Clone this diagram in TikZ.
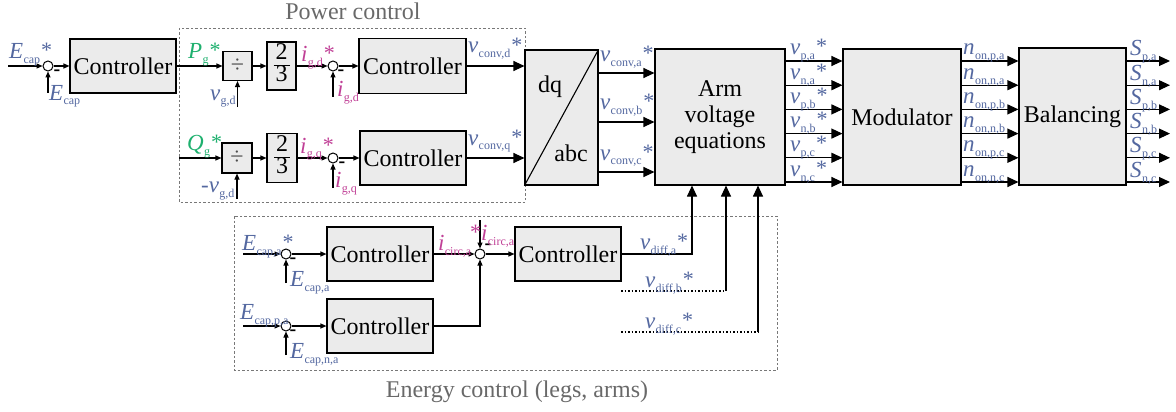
\documentclass[tikz,border=0pt]{standalone}
\usepackage{fontspec}
\setmainfont{Liberation Serif}
\usetikzlibrary{arrows.meta}
\definecolor{sblue}{RGB}{84,104,160}
\definecolor{sgreen}{RGB}{30,176,110}
\definecolor{spink}{RGB}{192,64,150}
\definecolor{boxfill}{RGB}{235,235,235}
\definecolor{frame}{RGB}{120,120,120}
\definecolor{ttl}{RGB}{105,105,105}
\newcommand\sgl[2]{\textit{#1}\kern0.3pt\raisebox{-5pt}{\fontsize{12}{12}\selectfont #2}}
\newcommand\str{\kern1pt\raisebox{1pt}{\fontsize{22}{22}\selectfont *}}
\newcommand\twothirds{{\setlength\arrayrulewidth{1pt}\renewcommand\arraystretch{0.8}\begin{tabular}{@{\kern2pt}c@{\kern2pt}}2\\[-1pt]\hline 3\end{tabular}}}
\begin{document}
\begin{tikzpicture}[x=1pt,y=-1pt,
  blk/.style={draw, line width=1.1pt, fill=boxfill, inner sep=0pt, font=\fontsize{24}{26}\selectfont, align=center},
  sumn/.style={draw, circle, fill=white, line width=1pt, minimum size=10pt, inner sep=0pt},
  con/.style={line width=1.1pt},
  sa/.style={con, -{Triangle[length=6pt,width=5pt]}},
  ba/.style={con, -{Triangle[length=11pt,width=10pt]}},
  lb/.style={anchor=base west, inner sep=0pt, font=\fontsize{23}{23}\selectfont},
  bl/.style={lb, text=sblue}, gl/.style={lb, text=sgreen}, pl/.style={lb, text=spink},
  mn/.style={inner sep=0pt, font=\fontsize{20}{20}\selectfont\bfseries},
  grp/.style={draw=frame, line width=0.8pt, dash pattern=on 2.5pt off 2pt},
  ttlf/.style={text=ttl, font=\fontsize{24}{24}\selectfont, anchor=base, inner sep=0pt},
  dt/.style={con, dash pattern=on 1.5pt off 2pt},
  plain/.style={inner sep=0pt, font=\fontsize{24}{26}\selectfont}
]
\useasboundingbox (0,0) rectangle (1176,412);
% groups
\draw[grp] (179,28) rectangle (525,202);
\draw[grp] (234,216) rectangle (777,370);
\node[ttlf] (tPow) at (353,20) {Power control};
\node[ttlf] (tEn) at (517,397) {Energy control (legs, arms)};

% row 1
\node[sumn] (sumA) at (48,66) {};
\node[blk, minimum width=106pt, minimum height=54pt] (ctrlA) at (123,66) {Controller};
\node[blk, minimum width=29pt, minimum height=29pt] (divA) at (237.5,66) {\textcolor{black!70}{÷}};
\node[blk, minimum width=29pt, minimum height=48pt] (fracA) at (281.5,66) {\twothirds};
\node[sumn] (sumB) at (333,66) {};
\node[blk, minimum width=107pt, minimum height=55pt] (ctrlB) at (412.5,66) {Controller};
% row 2
\node[blk, minimum width=30pt, minimum height=30pt] (divB) at (237,158) {\textcolor{black!70}{÷}};
\node[blk, minimum width=30pt, minimum height=49pt] (fracB) at (282,158) {\twothirds};
\node[sumn] (sumC) at (333,158) {};
\node[blk, minimum width=106pt, minimum height=54pt] (ctrlC) at (413,158) {Controller};
% big blocks
\node[blk, minimum width=73pt, minimum height=135pt] (dq) at (561.5,117.5) {};
\draw[line width=1.1pt] (dq.south west) -- (dq.north east);
\node[plain] (dqt) at (550,87) {dq};
\node[plain] (abct) at (571,153) {abc};
\node[blk, minimum width=130pt, minimum height=136pt] (arm) at (720,117) {Arm\\voltage\\equations};
\node[blk, minimum width=118pt, minimum height=136pt] (mod) at (902,117) {Modulator};
\node[blk, minimum width=107pt, minimum height=137pt] (bal) at (1072.5,116.5) {Balancing};
% energy
\node[sumn] (sumD) at (286,254) {};
\node[blk, minimum width=106pt, minimum height=54pt] (ctrlD) at (380,254) {Controller};
\node[sumn] (sumE) at (480,254) {};
\node[blk, minimum width=106pt, minimum height=54pt] (ctrlE) at (568,254) {Controller};
\node[sumn] (sumF) at (286,326) {};
\node[blk, minimum width=106pt, minimum height=54pt] (ctrlF) at (380,326) {Controller};

% connectors row 1
\coordinate (inA) at (8,66);
\draw[sa] (inA) -- (sumA);
\draw[sa] (sumA) -- (ctrlA);
\draw[sa] (ctrlA) -- (divA);
\draw[sa] (divA) -- (fracA);
\draw[sa] (fracA) -- (sumB);
\draw[sa] (sumB) -- (ctrlB);
\draw[ba] (ctrlB) -- (ctrlB -| dq.west);
\coordinate (fbA) at (48,93);
\draw[sa] (fbA) -- (sumA);
\coordinate (fbB) at (237.5,107);
\draw[sa] (fbB) -- (divA);
\coordinate (fbC) at (333,97);
\draw[sa] (fbC) -- (sumB);
% row 2
\coordinate (inB) at (179,158);
\draw[sa] (inB) -- (divB);
\draw[sa] (divB) -- (fracB);
\draw[sa] (fracB) -- (sumC);
\draw[sa] (sumC) -- (ctrlC);
\draw[ba] (ctrlC) -- (ctrlC -| dq.west);
\coordinate (fbD) at (237,199);
\draw[sa] (fbD) -- (divB);
\coordinate (fbE) at (333,188);
\draw[sa] (fbE) -- (sumC);
% dq to arm
\foreach \yy [count=\k] in {73,122,172}{
  \coordinate (dqy\k) at (0,\yy);
  \draw[ba] (dq.east |- dqy\k) -- (arm.west |- dqy\k);
}
% arm -> mod -> bal -> out
\foreach \yy [count=\k] in {61,85.2,109.4,133.6,157.8,182}{
  \coordinate (ay\k) at (0,\yy);
  \coordinate (out\k) at (1170,\yy);
  \draw[ba] (arm.east |- ay\k) -- (mod.west |- ay\k);
  \draw[ba] (mod.east |- ay\k) -- (bal.west |- ay\k);
  \draw[ba] (bal.east |- ay\k) -- (out\k);
}
% energy connectors
\coordinate (inD) at (243,254);
\draw[sa] (inD) -- (sumD);
\draw[sa] (sumD) -- (ctrlD);
\draw[sa] (ctrlD) -- (sumE);
\draw[sa] (sumE) -- (ctrlE);
\coordinate (fbF) at (286,283);
\draw[sa] (fbF) -- (sumD);
\coordinate (inF) at (243,326);
\draw[sa] (inF) -- (sumF);
\draw[sa] (sumF) -- (ctrlF);
\coordinate (fbG) at (286,355);
\draw[sa] (fbG) -- (sumF);
\draw[sa] (ctrlF) -| (sumE);
\coordinate (icirc) at (480,220);
\draw[sa] (icirc) -- (sumE);
\coordinate (vda) at (692,254);
\draw[ba] (ctrlE.east) -- (vda) -- (vda |- arm.south);
\coordinate (vdbs) at (621,291);
\coordinate (vdbc) at (726,291);
\draw[dt] (vdbs) -- (vdbc);
\draw[ba] (vdbc) -- (vdbc |- arm.south);
\coordinate (vdcs) at (621,332);
\coordinate (vdcc) at (758,332);
\draw[dt] (vdcs) -- (vdcc);
\draw[ba] (vdcc) -- (vdcc |- arm.south);

% minus signs
\node[mn] (m1) at (57,73) {-};
\node[mn] (m2) at (341,73) {-};
\node[mn] (m3) at (342,165) {-};
\node[mn] (m4) at (293,261) {-};
\node[mn] (m5) at (488,247) {-};
\node[mn] (m6) at (293,333) {-};

% labels
\node[bl] (lEcap) at (9,59) {\sgl{E}{cap}\str};
\node[bl] (lEcapfb) at (49,100) {\sgl{E}{cap}};
\node[gl] (lPg) at (188,59) {\sgl{P}{g}\str};
\node[bl] (lvgd) at (210,100) {\sgl{v}{g,d}};
\node[pl] (ligd) at (301,62) {\sgl{i}{g,d}\str};
\node[pl] (ligdfb) at (337,96) {\sgl{i}{g,d}};
\node[bl] (lvcd) at (468,53) {\sgl{v}{conv,d}\str};
\node[gl] (lQg) at (187,150) {\sgl{Q}{g}\str};
\node[bl] (lvgd2) at (201,192) {-\sgl{v}{g,d}};
\node[pl] (ligq) at (300,153) {\sgl{i}{g,q}\str};
\node[pl] (ligqfb) at (335,187) {\sgl{i}{g,q}};
\node[bl] (lvcq) at (468,145) {\sgl{v}{conv,q}\str};
\node[bl] (lvca) at (600,62) {\sgl{v}{conv,a}\str};
\node[bl] (lvcb) at (600,110) {\sgl{v}{conv,b}\str};
\node[bl] (lvcc) at (600,160) {\sgl{v}{conv,c}\str};
\foreach \yy/\s in {61/{p,a},85.2/{n,a},109.4/{p,b},133.6/{n,b},157.8/{p,c},182/{n,c}}{
  \node[bl] at (790,\yy-6) {\sgl{v}{\s}\str};
  \node[bl] at (963,\yy-6) {\sgl{n}{on,\s}};
  \node[bl] at (1130,\yy-5) {\sgl{S}{\s}};
}
\node[bl] (lEa) at (242,250) {\sgl{E}{cap,a}\str};
\node[bl] (lEafb) at (290,286) {\sgl{E}{cap,a}};
\node[pl] (lic) at (438,250) {\sgl{i}{circ,a}};
\node[pl] (licfb) at (469,240) {\str\sgl{i}{circ,a}};
\node[bl] (lvda) at (640,249) {\sgl{v}{diff,a}\str};
\node[bl] (lvdb) at (645,287) {\sgl{v}{diff,b}\str};
\node[bl] (lvdc) at (645,328) {\sgl{v}{diff,c}\str};
\node[bl] (lEpa) at (240,319) {\sgl{E}{cap,p,a}};
\node[bl] (lEna) at (290,358) {\sgl{E}{cap,n,a}};
\end{tikzpicture}
\end{document}
